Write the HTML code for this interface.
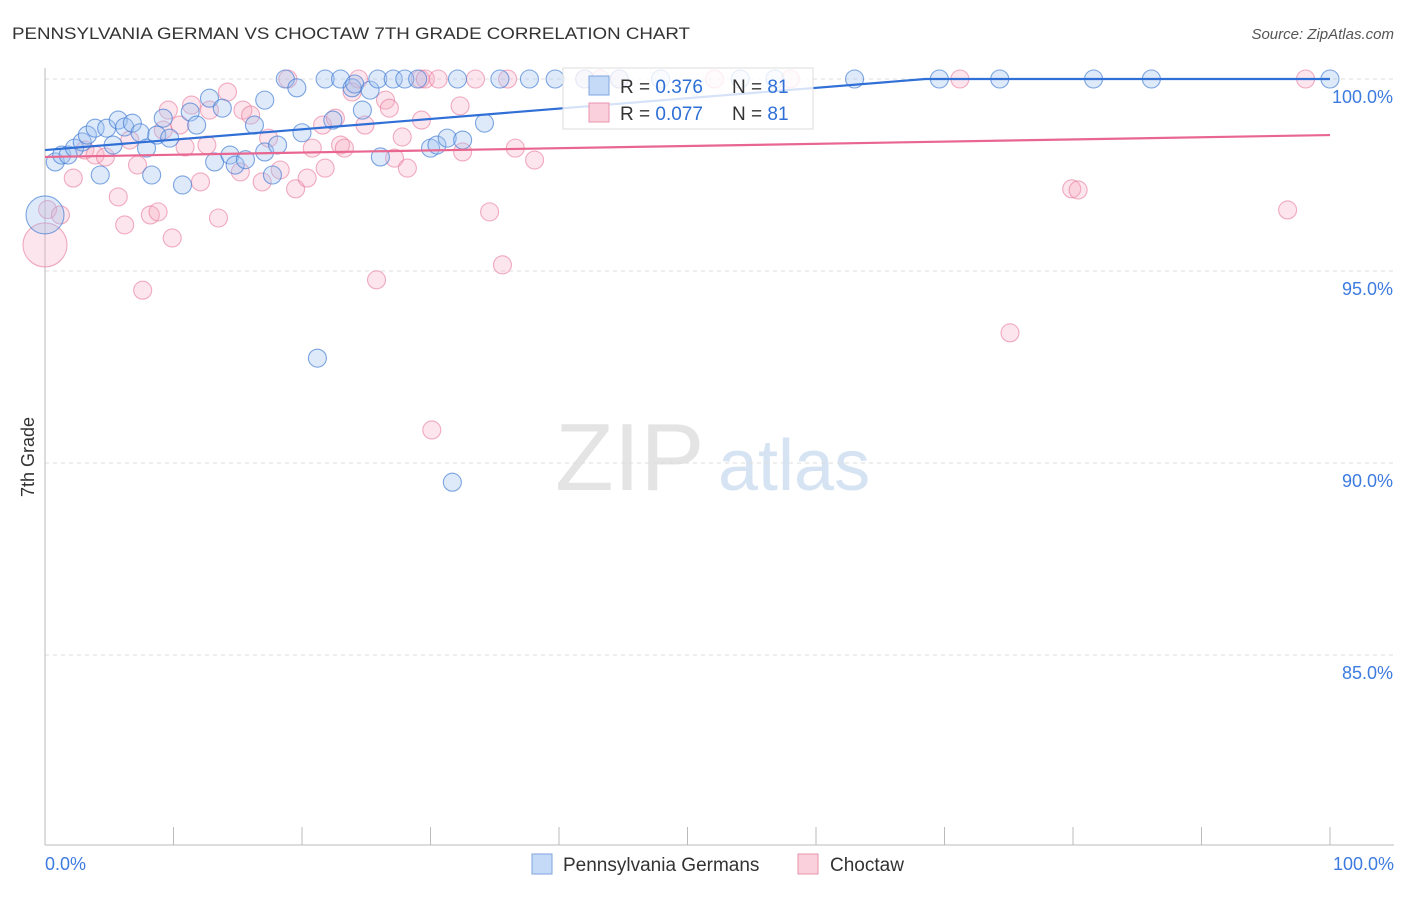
<!DOCTYPE html>
<html><head><meta charset="utf-8"><style>
body{margin:0;background:#fff;font-family:"Liberation Sans",sans-serif}
svg text{font-family:"Liberation Sans",sans-serif}
</style></head><body>
<svg id="chart" width="1406" height="892">
<text x="12" y="39" font-size="17" fill="#333" textLength="678" lengthAdjust="spacingAndGlyphs">PENNSYLVANIA GERMAN VS CHOCTAW 7TH GRADE CORRELATION CHART</text>
<text x="1394" y="39" font-size="15" fill="#555" text-anchor="end" font-style="italic">Source: ZipAtlas.com</text>
<text x="0" y="0" font-size="18" fill="#333" transform="translate(34,457) rotate(-90)" text-anchor="middle">7th Grade</text>
<g><text x="555" y="490" font-size="96" fill="#e4e4e4" font-family="Liberation Serif">ZIP</text><text x="718" y="490" font-size="72" fill="#d6e3f3">atlas</text></g>
<g id="grid"></g><g id="axes"></g><g id="pts"></g><g id="lines"></g>
<g>
<rect x="563" y="68" width="250" height="61" fill="#fff" fill-opacity="0.8" stroke="#ddd"/>
<rect x="589" y="76" width="20" height="19" fill="#c5daf6" stroke="#7ea6e0"/>
<text x="620" y="93" font-size="19" fill="#333">R = <tspan fill="#2e6fd6">0.376</tspan></text>
<text x="732" y="93" font-size="19" fill="#333">N = <tspan fill="#2e6fd6">81</tspan></text>
<rect x="589" y="103" width="20" height="19" fill="#f9d0dc" stroke="#eb94ae"/>
<text x="620" y="120" font-size="19" fill="#333">R = <tspan fill="#2e6fd6">0.077</tspan></text>
<text x="732" y="120" font-size="19" fill="#333">N = <tspan fill="#2e6fd6">81</tspan></text>
</g>
<g>
<rect x="532" y="854" width="20" height="20" fill="#c5daf6" stroke="#7ea6e0"/>
<text x="563" y="871" font-size="19" fill="#333">Pennsylvania Germans</text>
<rect x="798" y="854" width="20" height="20" fill="#f9d0dc" stroke="#eb94ae"/>
<text x="830" y="871" font-size="19" fill="#333">Choctaw</text>
</g>
</svg>
<script>
const yTicks=[100,95,90,85];
const xTickLabels=["0.0%","100.0%"];
const blueX=[0.8,1.3,1.8,2.3,2.9,3.3,3.9,4.3,4.8,5.3,5.7,6.2,6.8,7.4,7.9,8.3,8.7,9.2,9.7,10.7,11.3,11.8,12.8,13.2,13.8,14.4,14.8,15.6,16.3,17.1,17.1,17.7,18.1,18.7,19.6,20.0,21.2,21.8,22.4,23.0,23.9,24.1,24.7,25.3,25.9,26.1,27.1,28.0,29.0,30.0,30.5,31.3,31.7,32.1,32.5,34.2,35.4,37.7,39.7,42.0,44.7,47.9,54.1,56.8,63.0,69.6,74.3,81.6,86.1,100];
const blueY=[97.84,98.02,98.02,98.2,98.36,98.54,98.72,97.5,98.72,98.28,98.93,98.75,98.85,98.6,98.2,97.5,98.54,98.98,98.46,97.24,99.14,98.8,99.5,97.84,99.24,98.02,97.76,97.9,98.8,99.45,98.1,97.5,98.28,100,99.77,98.6,92.73,100,98.93,100,99.77,99.87,99.19,99.71,100,97.97,100,100,100,98.2,98.28,98.46,89.5,100,98.41,98.85,100,100,100,100,100,100,100,100,100,100,100,100,100,100];
const pinkX=[0.2,1.2,2.2,3.1,3.9,4.7,5.7,6.2,6.6,7.2,7.6,8.2,8.8,9.2,9.6,9.9,10.5,10.9,11.4,12.1,12.6,12.8,13.5,14.2,15.2,15.4,16.0,16.9,17.4,18.3,18.9,19.5,20.4,20.8,21.6,21.8,22.6,23.0,23.3,23.9,24.4,24.9,25.8,26.5,26.8,27.2,27.8,28.2,29.2,29.3,29.6,30.1,30.6,32.3,32.5,33.5,34.6,35.6,36.0,36.6,38.1,42.0,43.2,44.7,52.1,58.0,71.2,75.1,79.9,80.4,96.7,98.1];
const pinkY=[96.6,96.46,97.42,98.15,98.02,97.97,96.93,96.2,98.41,97.76,94.5,96.46,96.54,98.67,99.19,95.86,98.8,98.23,99.32,97.32,98.28,99.19,96.38,99.66,97.58,99.19,99.06,97.32,98.46,97.63,100,97.14,97.42,98.2,98.8,97.68,98.98,98.28,98.2,99.66,100,98.8,94.77,99.45,99.24,97.94,98.49,97.68,100,98.93,100,90.86,100,99.3,98.1,100,96.54,95.16,100,98.2,97.89,100,100,100,100,100,100,93.39,97.14,97.11,96.59,100];
const bigBlue=[[0,96.46]], bigPink=[[0,95.68]];
const blueTrend=[[0,98.15],[68.5,100],[100,100]];
const pinkTrend=[[0,97.97],[100,98.54]];
const X=v=>45+v*12.85, Y=v=>79+(100-v)*38.4;
const NS="http://www.w3.org/2000/svg";
function mk(p,t,a){const e=document.createElementNS(NS,t);for(const k in a)e.setAttribute(k,a[k]);document.getElementById(p).appendChild(e);return e;}
yTicks.forEach(t=>{
 const l=mk('grid','line',{x1:45,x2:1394,y1:Y(t),y2:Y(t),stroke:'#ddd','stroke-dasharray':'4,4'});
 
 
 const tx=mk('grid','text',{x:1393,y:Y(t)+24,'font-size':18,fill:'#3d7be0','text-anchor':'end'});tx.textContent=t.toFixed(1)+'%';
 
 
});
let a=mk('axes','line',{x1:45,x2:45,y1:68,y2:845,stroke:'#bbb'});

a=mk('axes','line',{x1:45,x2:1394,y1:845,y2:845,stroke:'#bbb'});

for(let k=0;k<=10;k++){const t=mk('axes','line',{x1:X(k*10),x2:X(k*10),y1:827,y2:845,stroke:'#bbb'});
 
 }
let t0=mk('axes','text',{x:45,y:870,'font-size':18,fill:'#3d7be0'});t0.textContent=xTickLabels[0];

t0=mk('axes','text',{x:1394,y:870,'font-size':18,fill:'#3d7be0','text-anchor':'end'});t0.textContent=xTickLabels[1];

function dots(xs,ys,fill,stroke,name,r){xs.forEach((x,i)=>{const c=mk('pts','circle',{cx:X(x),cy:Y(ys[i]),r:r,fill:fill,stroke:stroke,'stroke-width':1.1});
 
 });}
dots(pinkX,pinkY,'rgba(246,170,193,0.3)','rgba(232,120,155,0.6)','choctaw-point',9);
dots(blueX,blueY,'rgba(160,196,240,0.35)','rgba(60,120,210,0.65)','pennsylvania-german-point',9);
dots(bigPink.map(p=>p[0]),bigPink.map(p=>p[1]),'rgba(246,170,193,0.3)','rgba(232,120,155,0.6)','choctaw-point',22);
dots(bigBlue.map(p=>p[0]),bigBlue.map(p=>p[1]),'rgba(160,196,240,0.35)','rgba(60,120,210,0.65)','pennsylvania-german-point',19);
function trend(pts,col,name){const p=mk('lines','polyline',{points:pts.map(q=>X(q[0])+','+Y(q[1])).join(' '),fill:'none',stroke:col,'stroke-width':2.2});
 
 }
trend(blueTrend,'#2f6fd6','pennsylvania-german-trendline');
trend(pinkTrend,'#e86690','choctaw-trendline');
</script>
</body></html>
